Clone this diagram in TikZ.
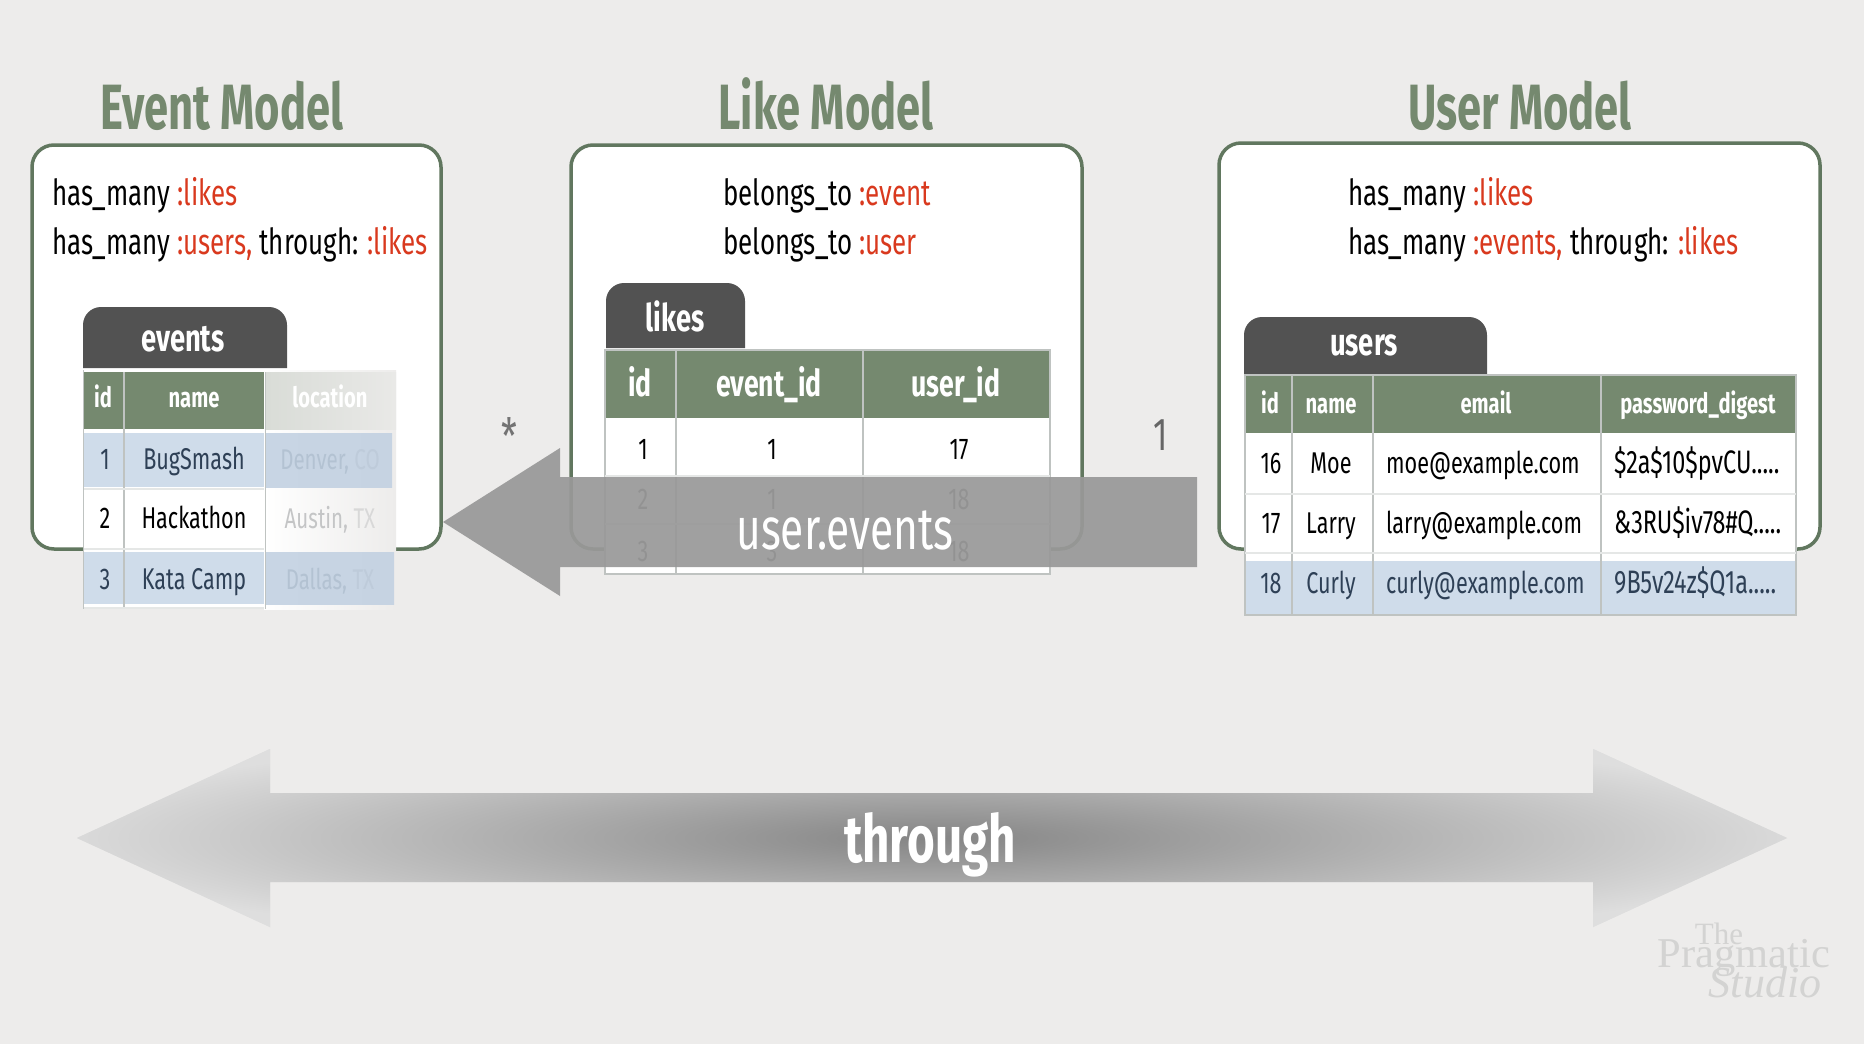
\documentclass[tikz,border=0pt]{standalone}
\usepackage{fontspec}
\setmainfont[FakeStretch=0.72]{Fira Sans}
\newfontfamily\titlefont[FakeStretch=0.68]{Fira Sans}
\newfontfamily\wmfont{Liberation Serif}
\definecolor{bgc}{HTML}{EDECEB}
\definecolor{grn}{HTML}{75896F}
\definecolor{boxc}{HTML}{61775F}
\definecolor{redc}{HTML}{D9391E}
\definecolor{tabc}{HTML}{525252}
\definecolor{bluec}{HTML}{CFDCEA}
\definecolor{bluet}{HTML}{2E4056}
\definecolor{gridc}{HTML}{BFC3C1}
\definecolor{arrc}{HTML}{999999}
\definecolor{wmc}{HTML}{D3D3D2}
\definecolor{lochA}{HTML}{D9DCD7}
\definecolor{lochB}{HTML}{E9E9E7}
\definecolor{locbA}{HTML}{C8D5E4}
\definecolor{locbB}{HTML}{C6D3E2}
\definecolor{loctA}{HTML}{B3C2D2}
\definecolor{loctB}{HTML}{BECBDA}
\definecolor{locwA}{HTML}{C4C5C6}
\definecolor{locwB}{HTML}{D8D8D8}
\definecolor{thrA}{HTML}{DEDEDE}
\definecolor{thrD}{HTML}{858585}
\tikzset{
 x=1pt,y=-1pt,
 modelbox/.style={draw=boxc,line width=3.5pt,fill=white,rounded corners=22pt},
 titletext/.style={anchor=base,text=grn,font=\titlefont\fontsize{64}{64}\selectfont\bfseries,inner sep=0},
 codetext/.style={anchor=base west,font=\fontsize{36}{36}\selectfont,inner sep=0},
 tabshape/.style={fill=tabc},
 tabtext/.style={anchor=base,text=white,font=\fontsize{38}{38}\selectfont\bfseries,inner sep=0},
 headsm/.style={anchor=base,text=white,font=\fontsize{28}{28}\selectfont\bfseries,inner sep=0},
 headlg/.style={anchor=base,text=white,font=\fontsize{37}{37}\selectfont\bfseries,inner sep=0},
 celltext/.style={anchor=base,font=\fontsize{30}{30}\selectfont,inner sep=0},
 loctext/.style={anchor=base,font=\fontsize{28.5}{28.5}\selectfont,inner sep=0},
 pwtext/.style={anchor=base west,font=\fontsize{32.5}{32.5}\selectfont,inner sep=0},
 gridline/.style={draw=gridc,line width=1.6pt},
 rowline/.style={draw=gridc!40,line width=1.2pt},
}
\newcommand{\rd}[1]{\textcolor{redc}{#1}}
\begin{document}
\begin{tikzpicture}
\path[use as bounding box,fill=bgc] (0,0) rectangle (1864,1044);

% model boxes
\path[modelbox] (32,145) rectangle (441,549);
\path[modelbox] (571,145) rectangle (1082,549);
\path[modelbox] (1219,143) rectangle (1820,549);

% titles
\node[titletext] (tevent) at (222,129) {Event Model};
\node[titletext] (tlike) at (826,129) {Like Model};
\node[titletext] (tuser) at (1520,129) {User Model};

% code
\node[codetext] (ce1) at (52,205) {has\_many \rd{:likes}};
\node[codetext] (ce2) at (52,254) {has\_many \rd{:users,} through: \rd{:likes}};
\node[codetext] (cl1) at (723,205) {belongs\_to \rd{:event}};
\node[codetext] (cl2) at (723,254) {belongs\_to \rd{:user}};
\node[codetext] (cu1) at (1348,205) {has\_many \rd{:likes}};
\node[codetext] (cu2) at (1348,254) {has\_many \rd{:events,} through: \rd{:likes}};

% ---------- events table
\fill[tabshape] (83,368) [rounded corners=18pt] -- (83,307) -- (287,307) [sharp corners] -- (287,368) -- cycle;
\node[tabtext] (tabev) at (183,351) {events};
\fill[white] (83,370) rectangle (264,609);
\shade[left color=white,right color=bgc] (264,370) rectangle (396,609);
\fill[grn] (83,372) rectangle (264,429);
\shade[left color=lochA,right color=lochB] (266,372) rectangle (396,429);
\fill[bluec] (83,433) rectangle (264,487);
\fill[bluec] (83,552) rectangle (264,604);
\shade[left color=locbA,right color=locbB] (266,433) rectangle (392,487);
\shade[left color=locbA,right color=locbB] (266,552) rectangle (394,604);
\draw[draw=gridc,line width=2.5pt] (124,372) -- (124,609);
\draw[draw=gridc,line width=1pt] (265,372) -- (265,609);
\draw[rowline] (83,489) -- (264,489) (83,549) -- (264,549) (83,608) -- (264,608);
\draw[draw=gridc,line width=1pt] (83,370) -- (83,609);
\node[headsm] (eh1) at (103,407) {id};
\node[headsm] (eh2) at (194,407) {name};
\node[headsm] (eh3) at (330,407) {location};
\node[celltext,text=bluet] (e11) at (105,469) {1};
\node[celltext,text=bluet] (e12) at (194,469) {BugSmash};
\node[loctext,text=loctA] (e13) at (330,469) {Denver, \textcolor{loctB}{CO}};
\node[celltext] (e21) at (105,528) {2};
\node[celltext] (e22) at (194,528) {Hackathon};
\node[loctext,text=locwA] (e23) at (330,528) {Austin, \textcolor{locwB}{TX}};
\node[celltext,text=bluet] (e31) at (105,589) {3};
\node[celltext,text=bluet] (e32) at (194,589) {Kata Camp};
\node[loctext,text=loctA] (e33) at (330,589) {Dallas, \textcolor{loctB}{TX}};

% ---------- likes table
\fill[tabshape] (606,348) [rounded corners=18pt] -- (606,283) -- (745,283) [sharp corners] -- (745,348) -- cycle;
\node[tabtext] (tabli) at (675,331) {likes};
\fill[white] (605,350) rectangle (1050,574);
\fill[grn] (605,351) rectangle (1050,418);
\draw[gridline] (605,350) rectangle (1050,574);
\draw[gridline] (676,350) -- (676,574) (863,350) -- (863,574);
\draw[rowline] (605,476) -- (1050,476) (605,524) -- (1050,524);
\node[headlg] (lh1) at (640,396) {id};
\node[headlg] (lh2) at (769,396) {event\_id};
\node[headlg] (lh3) at (956,396) {user\_id};
\node[celltext] (l11) at (643,459) {1};
\node[celltext] (l12) at (772,459) {1};
\node[celltext] (l13) at (959,459) {17};
\node[celltext,text=black!75] (l21) at (643,509) {2};
\node[celltext,text=black!75] (l22) at (772,509) {1};
\node[celltext,text=black!75] (l23) at (959,509) {18};
\node[celltext,text=black!75] (l31) at (643,561) {3};
\node[celltext,text=black!75] (l32) at (772,561) {3};
\node[celltext,text=black!75] (l33) at (959,561) {18};

% ---------- users table
\fill[tabshape] (1244,374) [rounded corners=18pt] -- (1244,317) -- (1487,317) [sharp corners] -- (1487,374) -- cycle;
\node[tabtext] (tabus) at (1364,355) {users};
\fill[white] (1245,375) rectangle (1796,615);
\fill[grn] (1245,376) rectangle (1796,433);
\fill[bluec] (1245,561) rectangle (1796,615);
\draw[gridline] (1245,375) rectangle (1796,615);
\draw[gridline] (1292,375) -- (1292,615) (1373,375) -- (1373,615) (1601,375) -- (1601,615);
\draw[rowline] (1245,494) -- (1796,494) (1245,553) -- (1796,553);
\node[headsm] (uh1) at (1270,413) {id};
\node[headsm] (uh2) at (1331,413) {name};
\node[headsm] (uh3) at (1486,413) {email};
\node[headsm] (uh4) at (1698,413) {password\_digest};
\node[celltext] (u11) at (1271,473) {16};
\node[celltext] (u12) at (1331,473) {Moe};
\node[celltext,anchor=base west] (u13) at (1386,473) {moe@example.com};
\node[pwtext] (u14) at (1614,473) {\$2a\$10\$pvCU.....};
\node[celltext] (u21) at (1271,533) {17};
\node[celltext] (u22) at (1331,533) {Larry};
\node[celltext,anchor=base west] (u23) at (1386,533) {larry@example.com};
\node[pwtext] (u24) at (1614,533) {\&3RU\$iv78\#Q.....};
\node[celltext,text=bluet] (u31) at (1271,593) {18};
\node[celltext,text=bluet] (u32) at (1331,593) {Curly};
\node[celltext,text=bluet,anchor=base west] (u33) at (1386,593) {curly@example.com};
\node[pwtext,text=bluet] (u34) at (1614,593) {9B5v24z\$Q1a.....};

% ---------- user.events arrow
\fill[arrc,opacity=0.93] (443,522) -- (560,448) -- (560,477) -- (1197,477) -- (1197,567) -- (560,567) -- (560,596) -- cycle;
\node[anchor=base,text=white,inner sep=0,font=\fontsize{59}{59}\selectfont] (ue) at (845,549) {user.events};
\node[anchor=center,text=black!55,inner sep=0,font=\fontsize{50}{50}\selectfont] (star) at (509,436) {*};
\node[anchor=center,text=black!60,inner sep=0,font=\fontsize{46}{46}\selectfont] (one) at (1161,435) {1};

% ---------- through arrow
\begin{scope}
\clip (77,838) -- (270,749) -- (270,793) -- (1593,793) -- (1593,749) -- (1787,838) -- (1593,927) -- (1593,882) -- (270,882) -- (270,927) -- cycle;
\fill[thrA] (60,740) rectangle (1800,940);
\shade[inner color=thrD,outer color=thrA] (32,726) rectangle (1832,950);
\end{scope}
\node[anchor=base,text=white,inner sep=0,font=\fontsize{66}{66}\selectfont\bfseries] (thr) at (930,862) {through};

% ---------- watermark
\node[anchor=base,text=wmc,inner sep=0,font=\wmfont\fontsize{31}{31}\selectfont] (wm1) at (1719,944) {The};
\node[anchor=base,text=wmc,inner sep=0,font=\wmfont\fontsize{42.5}{42.5}\selectfont] (wm2) at (1744,967) {Pragmatic};
\node[anchor=base,text=wmc,inner sep=0,font=\wmfont\itshape\fontsize{44}{44}\selectfont] (wm3) at (1765,997) {Studio};
\end{tikzpicture}
\end{document}
